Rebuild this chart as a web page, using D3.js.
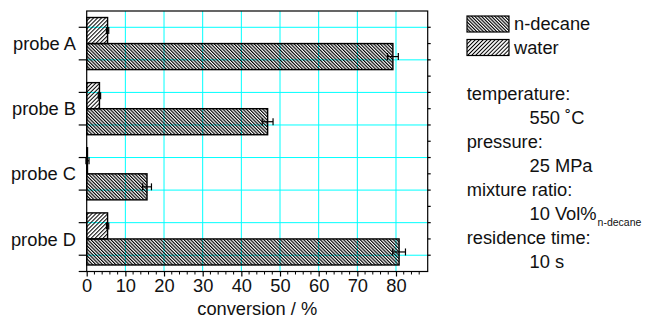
<!DOCTYPE html>
<html>
<head>
  <meta charset="utf-8">
  <script src="https://cdn.jsdelivr.net/npm/d3@7"></script>
  <style>
    body { margin: 0; background: #fff; }
    text { font-family: "Liberation Sans", Arial, sans-serif; fill: #111; }
  </style>
</head>
<body>
<script>
// values
var probes = ["probe A", "probe B", "probe C", "probe D"];
var nDecane = [79.2, 46.8, 15.6, 80.8];
var nDecaneErr = [1.4, 1.4, 1.15, 1.65];
var water = [5.4, 3.3, 0.2, 5.4];
var waterErr = [0.3, 0.3, 0.4, 0.3];
var xTicks = [0, 10, 20, 30, 40, 50, 60, 70, 80];
var series = ["water", "n-decane"];
var legendItems = ["n-decane", "water"];
var conditions = [
  ["temperature:", "550 \u02DAC", ""],
  ["pressure:", "25 MPa", ""],
  ["mixture ratio:", "10 Vol%", "n-decane"],
  ["residence time:", "10 s", ""]
];

var width = 645, height = 322;
var pLeft = 86.7, pRight = 427.7, pTop = 11, pBottom = 271.5;
var fontSize = 18.3;

var svg = d3.select("body").append("svg")
    .attr("width", width)
    .attr("height", height);

// hatch patterns: a stripe in a rotated tile
var defs = svg.append("defs");
function hatch(id, angle, period, sw) {
  var p = defs.append("pattern")
      .attr("id", id)
      .attr("patternUnits", "userSpaceOnUse")
      .attr("width", period).attr("height", 10)
      .attr("patternTransform", "rotate(" + angle + ")");
  p.append("rect").attr("x", 0).attr("y", 0)
      .attr("width", sw).attr("height", 10).attr("fill", "#000");
}
hatch("hatch-decane", -45, 2.35, 1.15);
hatch("hatch-water", 45, 2.8, 1.0);
var fills = { "n-decane": "url(#hatch-decane)", "water": "url(#hatch-water)" };

var x = d3.scaleLinear().domain([0, 88.2]).range([pLeft, pRight]);
var yLin = d3.scaleLinear().domain([0, 8]).range([pTop, pBottom]);
var y = d3.scaleBand().domain(probes).range([pTop, pBottom])
    .paddingInner(0.2).paddingOuter(0.1);
var ySub = d3.scaleBand().domain(series).range([0, y.bandwidth()]);

// grid
var grid = svg.append("g").attr("stroke", "#00ffff").attr("stroke-width", 1);
grid.selectAll(".gx").data(xTicks.slice(1)).enter().append("line")
    .attr("x1", function (d) { return x(d); }).attr("x2", function (d) { return x(d); })
    .attr("y1", pTop).attr("y2", pBottom);
grid.selectAll(".gy").data(d3.range(0.5, 8, 1)).enter().append("line")
    .attr("x1", pLeft).attr("x2", pRight)
    .attr("y1", function (d) { return yLin(d); }).attr("y2", function (d) { return yLin(d); });

// bars
var rows = [];
probes.forEach(function (p, i) {
  rows.push({ probe: p, key: "water", v: water[i], e: waterErr[i] });
  rows.push({ probe: p, key: "n-decane", v: nDecane[i], e: nDecaneErr[i] });
});

svg.append("g").selectAll("rect").data(rows).enter().append("rect")
    .attr("x", x(0))
    .attr("y", function (d) { return y(d.probe) + ySub(d.key); })
    .attr("width", function (d) { return x(d.v) - x(0); })
    .attr("height", ySub.bandwidth())
    .attr("fill", function (d) { return fills[d.key]; })
    .attr("stroke", "#000").attr("stroke-width", 1.4);

// error bars
var eb = svg.append("g").attr("stroke", "#000").attr("stroke-width", 1.2);
rows.forEach(function (d) {
  var cy = y(d.probe) + ySub(d.key) + ySub.bandwidth() / 2;
  var x0 = x(d.v - d.e), x1 = x(d.v + d.e);
  eb.append("line").attr("x1", x0).attr("x2", x1).attr("y1", cy).attr("y2", cy);
  eb.append("line").attr("x1", x0).attr("x2", x0).attr("y1", cy - 3.5).attr("y2", cy + 3.5);
  eb.append("line").attr("x1", x1).attr("x2", x1).attr("y1", cy - 3.5).attr("y2", cy + 3.5);
});

// frame
svg.append("rect").attr("x", pLeft).attr("y", pTop)
    .attr("width", pRight - pLeft).attr("height", pBottom - pTop)
    .attr("fill", "none").attr("stroke", "#000").attr("stroke-width", 1.2);

// bottom axis
var xAxis = svg.append("g").attr("transform", "translate(0," + pBottom + ")")
    .call(d3.axisBottom(x).tickValues(xTicks).tickSize(5).tickPadding(3));
xAxis.select(".domain").remove();
xAxis.selectAll("text").attr("font-size", fontSize).style("font-family", "Liberation Sans, Arial, sans-serif");
xAxis.selectAll("line").attr("stroke-width", 1.2);
svg.append("g").selectAll("line")
    .data(d3.range(2, 88, 2).filter(function (d) { return d % 10 !== 0; }))
    .enter().append("line")
    .attr("x1", function (d) { return x(d); }).attr("x2", function (d) { return x(d); })
    .attr("y1", pBottom).attr("y2", pBottom + 3)
    .attr("stroke", "#000").attr("stroke-width", 1);
svg.append("line").attr("x1", pLeft - 8).attr("x2", pLeft)
    .attr("y1", pBottom).attr("y2", pBottom).attr("stroke", "#000").attr("stroke-width", 1.2);

// left axis ticks at grid rows, labels at group centres
svg.append("g").selectAll("line").data(d3.range(0.5, 8, 1)).enter().append("line")
    .attr("x1", pLeft - 8).attr("x2", pLeft)
    .attr("y1", function (d) { return yLin(d); }).attr("y2", function (d) { return yLin(d); })
    .attr("stroke", "#000").attr("stroke-width", 1.2);
svg.append("g").selectAll("text").data(probes).enter().append("text")
    .attr("x", 76)
    .attr("y", function (d) { return y(d) + y.bandwidth() / 2; })
    .attr("dy", "0.36em")
    .attr("text-anchor", "end")
    .attr("font-size", fontSize)
    .text(function (d) { return d; });

// right axis ticks
svg.append("g").selectAll("line").data(d3.range(0.5, 8, 0.5)).enter().append("line")
    .attr("x1", pRight).attr("x2", pRight + 3)
    .attr("y1", function (d) { return yLin(d); }).attr("y2", function (d) { return yLin(d); })
    .attr("stroke", "#000").attr("stroke-width", 1.2);

// axis title
svg.append("text")
    .attr("x", (pLeft + pRight) / 2).attr("y", 315)
    .attr("text-anchor", "middle")
    .attr("font-size", fontSize)
    .text("conversion / %");

// legend
var lg = svg.append("g").attr("transform", "translate(467,16)");
legendItems.forEach(function (k, i) {
  var g = lg.append("g").attr("transform", "translate(0," + (i * 23.5) + ")");
  g.append("rect").attr("width", 42).attr("height", 16)
      .attr("fill", fills[k]).attr("stroke", "#000").attr("stroke-width", 1.2);
  g.append("text").attr("x", 47).attr("y", 14).attr("font-size", fontSize).text(k);
});

// run conditions
var info = svg.append("g").attr("font-size", fontSize);
conditions.forEach(function (c, i) {
  var by = 100 + i * 48;
  info.append("text").attr("x", 466.7).attr("y", by).text(c[0]);
  var t = info.append("text").attr("x", 529.5).attr("y", by + 24).text(c[1]);
  if (c[2]) {
    t.append("tspan").attr("font-size", 10.5).attr("dy", 6).attr("dx", 1).text(c[2]);
  }
});
</script>
</body>
</html>
